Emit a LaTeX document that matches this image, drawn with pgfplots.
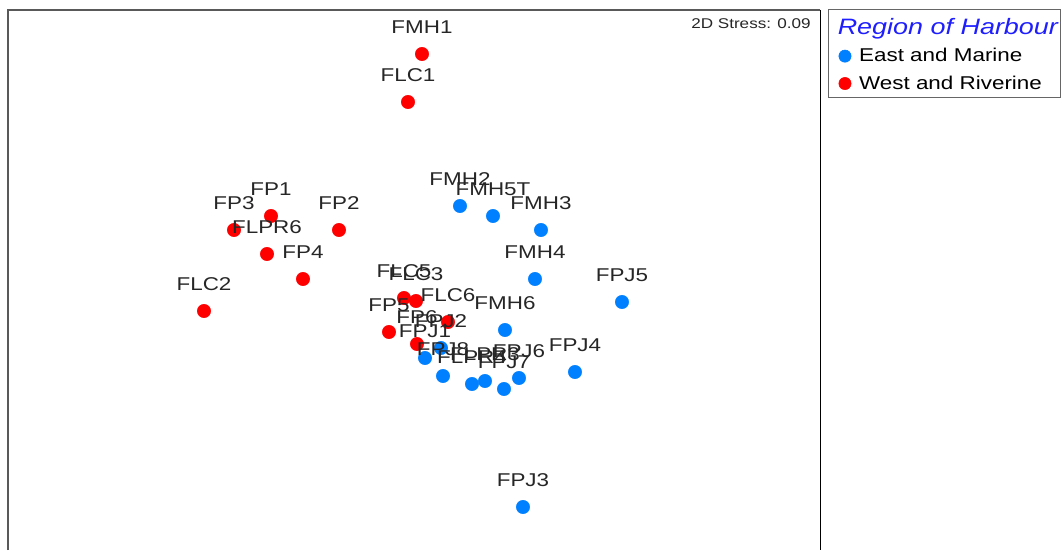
\documentclass[border=0pt]{standalone}
\usepackage{pgfplots}
\pgfplotsset{compat=1.18}
\usepackage{pgfplotstable}
\usepackage{fontspec}
\setmainfont{Liberation Sans}
\newfontfamily\labfont[FakeStretch=1.21]{Liberation Sans}
\definecolor{eastblue}{RGB}{0,128,255}
\definecolor{westred}{RGB}{255,0,0}
\definecolor{titleblue}{RGB}{30,30,255}

\pgfplotstableread{
x y label
422 -54 FMH1
408 -102 FLC1
271 -216 FP1
234 -230 FP3
267 -254 FLPR6
339 -230 FP2
303 -279 FP4
204 -311 FLC2
404 -298 FLC5
416 -301 FLC3
448 -322 FLC6
389 -332 FP5
417 -344 FP6
}\westdata

\pgfplotstableread{
x y label
460 -206 FMH2
493 -216 FMH5T
541 -230 FMH3
535 -279 FMH4
622 -302 FPJ5
505 -330 FMH6
575 -372 FPJ4
523 -507 FPJ3
425 -358 FPJ1
441 -348 FPJ2
443 -376 FPJ8
472 -384 FLPR4
485 -381 FLPR3
519 -378 FPJ6
504 -389 FPJ7
}\eastdata

\begin{document}
\begin{tikzpicture}
\begin{axis}[
  width=797.25pt, height=412.5pt, scale only axis,
  xmin=0, xmax=1063, ymin=-550, ymax=0,
  hide axis, clip=false,
  legend style={at={(axis cs:828,-10)}, anchor=north west, draw=none, fill=none,
    font=\labfont\fontsize{13.9}{16}\selectfont, inner xsep=4pt, inner ysep=4pt,
    row sep=5pt},
  legend cell align=left,
  legend image post style={mark size=4.6pt},
]
\addlegendimage{empty legend}
\addlegendentry{\hspace*{-12pt}{\fontsize{16.7}{19}\selectfont\itshape\color{titleblue}Region of Harbour}}
\addplot[only marks, mark=*, mark size=5pt, color=eastblue] table[x=x,y=y] {\eastdata};
\addlegendentry{\hspace*{4pt}East and Marine}
\addplot[only marks, mark=*, mark size=5pt, color=westred] table[x=x,y=y] {\westdata};
\addlegendentry{\hspace*{4pt}West and Riverine}

\addplot[draw=none, mark=none, forget plot, nodes near coords, point meta=explicit symbolic,
  every node near coord/.style={anchor=center, yshift=20.25pt, inner sep=0pt,
    font=\labfont\fontsize{13.9}{16}\selectfont, text=black!85}]
  table[x=x,y=y,meta=label] {\westdata};
\addplot[draw=none, mark=none, forget plot, nodes near coords, point meta=explicit symbolic,
  every node near coord/.style={anchor=center, yshift=20.25pt, inner sep=0pt,
    font=\labfont\fontsize{13.9}{16}\selectfont, text=black!85}]
  table[x=x,y=y,meta=label] {\eastdata};

\draw[gray!70!black, line width=0.9pt] (axis cs:8,-550) -- (axis cs:8,-10) -- (axis cs:820,-10);
\draw[black, line width=0.75pt] (axis cs:820,-10) -- (axis cs:820,-550);
\draw[gray!80!black, line width=0.75pt] (axis cs:828,-10) rectangle (axis cs:1060,-98);
\node[anchor=east, inner sep=0pt, font=\labfont\fontsize{10.6}{12}\selectfont, text=black!85]
  at (axis cs:811,-24) {2D Stress: 0.09};
\end{axis}
\pgfresetboundingbox
\path (current axis.south west) rectangle (current axis.north east);
\end{tikzpicture}
\end{document}
